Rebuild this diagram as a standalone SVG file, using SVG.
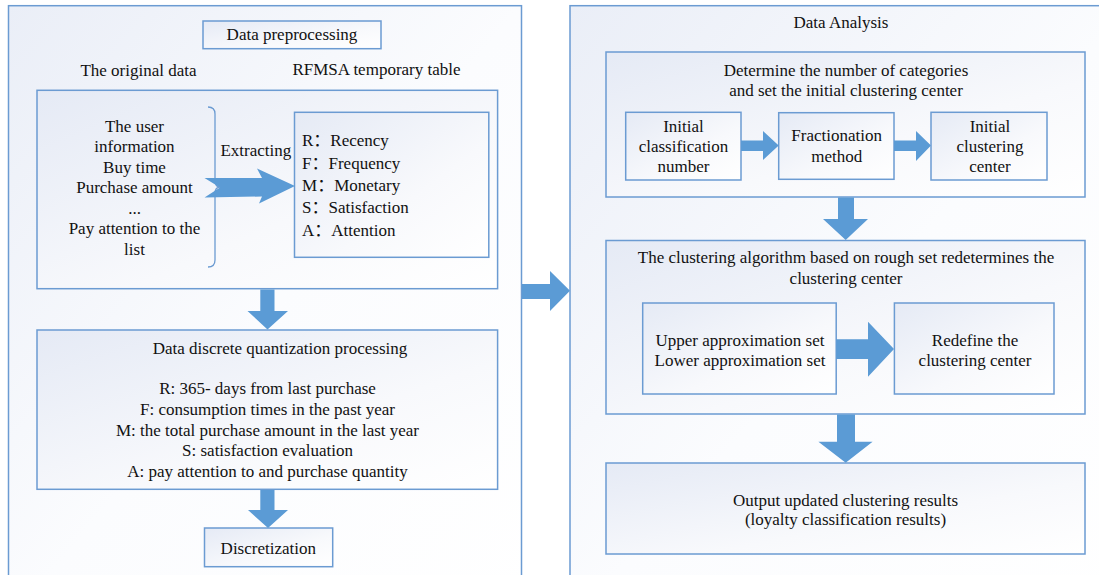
<svg xmlns="http://www.w3.org/2000/svg" width="1099" height="575" viewBox="0 0 1099 575">
<defs>
<linearGradient id="g" x1="0" y1="0" x2="1" y2="1">
<stop offset="0" stop-color="#e5eaf5"/>
<stop offset="0.6" stop-color="#f8f9fc"/>
<stop offset="1" stop-color="#ffffff"/>
</linearGradient>
<linearGradient id="gp" x1="0" y1="0" x2="1" y2="1">
<stop offset="0" stop-color="#eaeef7"/>
<stop offset="0.5" stop-color="#fbfcfe"/>
<stop offset="1" stop-color="#ffffff"/>
</linearGradient>
<style>
.box{fill:url(#g);stroke:#6b9bd2;stroke-width:1.5}
.panel{fill:url(#gp);stroke:#6b9bd2;stroke-width:1.5}
text{font-family:'Liberation Serif','Times New Roman',serif;font-size:17px;fill:#111}
.c{text-anchor:middle}
.cjk{font-family:'Noto Sans CJK SC',sans-serif}
.arr{fill:#5b9bd5;stroke:none}
.br{fill:none;stroke:#6b9bd2;stroke-width:1.3}
</style>
</defs>
<rect width="1099" height="575" fill="#ffffff"/>

<g id="panel-preprocessing">
<rect class="panel" x="8.5" y="5.7" width="513" height="620"/>
</g>
<g id="panel-analysis">
<rect class="panel" x="570" y="5.7" width="560" height="620"/>
<text class="c" x="841" y="27.5">Data Analysis</text>
</g>

<g id="node-data-preprocessing">
<rect class="box" x="203" y="21" width="178" height="27.7"/>
<text class="c" x="292" y="40">Data preprocessing</text>
</g>
<g id="labels-top">
<text class="c" x="138.5" y="75.5">The original data</text>
<text class="c" x="376.5" y="74.5">RFMSA temporary table</text>
</g>

<g id="node-original-data">
<rect class="box" x="37" y="90.3" width="460.6" height="198.4"/>
<text class="c" x="134.5" y="131.5">The user</text>
<text class="c" x="134.5" y="152">information</text>
<text class="c" x="134.5" y="172.5">Buy time</text>
<text class="c" x="134.5" y="193">Purchase amount</text>
<text class="c" x="134.5" y="213.5">...</text>
<text class="c" x="134.5" y="234">Pay attention to the</text>
<text class="c" x="134.5" y="254.5">list</text>
<path class="br" d="M208,107 Q215,107 215,114 L215,180 Q215,187 220,187 Q215,187 215,194 L215,260 Q215,267 208,267"/>
<text x="220.4" y="155.5">Extracting</text>
</g>

<g id="node-rfmsa">
<rect class="box" x="294.5" y="112.3" width="194.3" height="145"/>
<text x="302" y="146.3">R<tspan class="cjk">：</tspan>Recency</text>
<text x="302" y="168.6">F<tspan class="cjk">：</tspan>Frequency</text>
<text x="302" y="191.3">M<tspan class="cjk">：</tspan>Monetary</text>
<text x="302" y="213.3">S<tspan class="cjk">：</tspan>Satisfaction</text>
<text x="302" y="236.3">A<tspan class="cjk">：</tspan>Attention</text>
</g>

<g id="node-discrete">
<rect class="box" x="37" y="330" width="460.6" height="159.3"/>
<text class="c" x="280" y="354">Data discrete quantization processing</text>
<text class="c" x="267.5" y="394.3">R: 365- days from last purchase</text>
<text class="c" x="267.5" y="415">F: consumption times in the past year</text>
<text class="c" x="267.5" y="435.6">M: the total purchase amount in the last year</text>
<text class="c" x="267.5" y="455.6">S: satisfaction evaluation</text>
<text class="c" x="267.5" y="476.6">A: pay attention to and purchase quantity</text>
</g>

<g id="node-discretization">
<rect class="box" x="204.5" y="528" width="128.2" height="38.7"/>
<text class="c" x="268.3" y="554.3">Discretization</text>
</g>

<g id="node-determine">
<rect class="box" x="606" y="52" width="479" height="145"/>
<text class="c" x="846" y="75.5">Determine the number of categories</text>
<text class="c" x="846" y="96">and set the initial clustering center</text>
</g>
<g id="node-initial-classification">
<rect class="box" x="625.7" y="112.3" width="115.3" height="67.7"/>
<text class="c" x="683.5" y="131.5">Initial</text>
<text class="c" x="683.5" y="152.2">classification</text>
<text class="c" x="683.5" y="172.2">number</text>
</g>
<g id="node-fractionation">
<rect class="box" x="778.7" y="112.7" width="115.3" height="66.6"/>
<text class="c" x="836.7" y="140.5">Fractionation</text>
<text class="c" x="836.7" y="162">method</text>
</g>
<g id="node-initial-center">
<rect class="box" x="931" y="112.3" width="116" height="67.7"/>
<text class="c" x="990" y="131.5">Initial</text>
<text class="c" x="990" y="152.2">clustering</text>
<text class="c" x="990" y="172.2">center</text>
</g>

<g id="node-rough-set">
<rect class="box" x="606" y="240.5" width="479" height="173.5"/>
<text class="c" x="846" y="262.5">The clustering algorithm based on rough set redetermines the</text>
<text class="c" x="846" y="283.5">clustering center</text>
</g>
<g id="node-approximation">
<rect class="box" x="642.7" y="303" width="193.5" height="91"/>
<text class="c" x="740" y="345.5">Upper approximation set</text>
<text class="c" x="740" y="365.5">Lower approximation set</text>
</g>
<g id="node-redefine">
<rect class="box" x="894.4" y="303" width="159.6" height="91"/>
<text class="c" x="975" y="345.5">Redefine the</text>
<text class="c" x="975" y="365.5">clustering center</text>
</g>

<g id="node-output">
<rect class="box" x="606" y="463" width="479" height="91"/>
<text class="c" x="845.5" y="505.5">Output updated clustering results</text>
<text class="c" x="845.5" y="524.5">(loyalty classification results)</text>
</g>

<g id="connectors">
<polygon class="arr" points="204.5,178 262,178 257,168.5 295,186 259,203.5 262,196.5 204.5,197.5 220,187.5"/>
<polygon class="arr" points="260.3,289.5 274.5,289.5 274.5,311 288,311 267.5,329.5 247.5,311 260.3,311"/>
<polygon class="arr" points="260.3,490 274.5,490 274.5,510 288,510 268,528 248,510 260.3,510"/>
<polygon class="arr" points="522,284 550,284 550,271 570,290.7 550,311 550,299 522,299"/>
<polygon class="arr" points="741,140.5 763,140.5 763,131 778.7,145.5 763,160 763,151 741,151"/>
<polygon class="arr" points="894,140.5 916,140.5 916,131 931,145.5 916,161 916,151 894,151"/>
<polygon class="arr" points="838,197.5 854,197.5 854,219 868,219 845.7,240 823,219 838,219"/>
<polygon class="arr" points="836.2,339.3 868,339.3 868,321.7 894,349 868,376.7 868,359 836.2,359"/>
<polygon class="arr" points="837,414.5 855,414.5 855,441.7 872.6,441.7 845.7,462.7 818.4,441.7 837,441.7"/>
</g>
</svg>
